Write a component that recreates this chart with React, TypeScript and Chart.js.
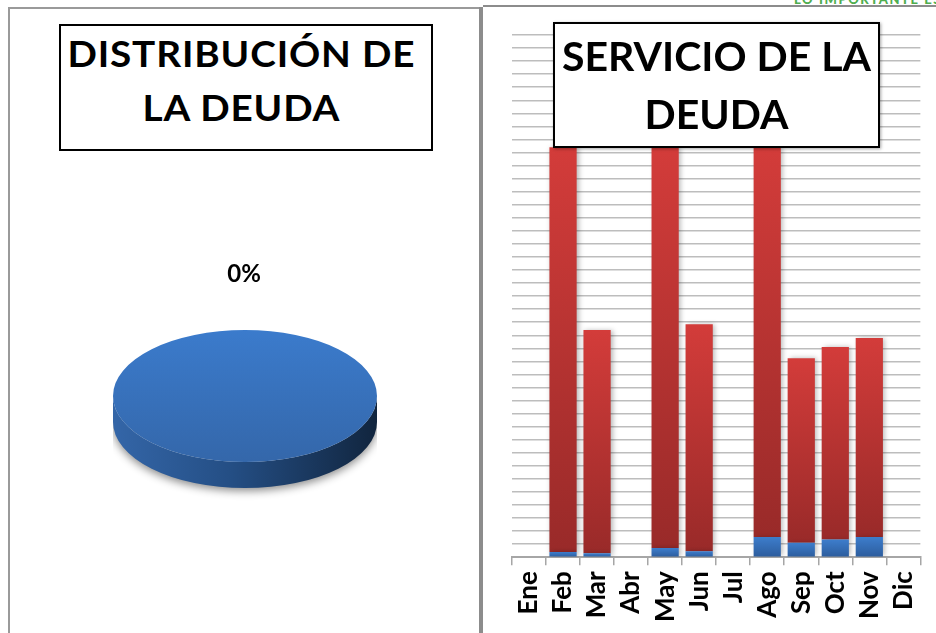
import React, { useEffect, useRef } from 'react';
import { Chart, registerables } from 'chart.js';
Chart.register(...registerables);

// ---- data ----
const months = ['Ene', 'Feb', 'Mar', 'Abr', 'May', 'Jun', 'Jul', 'Ago', 'Sep', 'Oct', 'Nov', 'Dic'];
const blueValues = [0, 0.4, 0.3, 0, 0.7, 0.45, 0, 1.55, 1.1, 1.35, 1.55, 0];
const redValues = [0, 31.0, 17.1, 0, 30.7, 17.4, 0, 29.85, 14.15, 14.75, 15.25, 0];
const seriesNames = ['Intereses', 'Amortización'];
const yMax = 40;
const yStep = 1;

const pieCategories = ['Deuda'];
const pieValues = [100];
const pieLabels = ['0%'];

const pieTitleLines = ['DISTRIBUCIÓN DE', 'LA DEUDA'];
const barTitleLines = ['SERVICIO DE LA', 'DEUDA'];
const cornerText = 'LO IMPORTANTE ES';

const FONT = 'Lato, "Open Sans", sans-serif';

function gradFor(top: string, bottom: string, lower?: number[]) {
  return (c: any) => {
    const chart = c.chart;
    const ys = chart.scales && chart.scales.y;
    if (!ys || c.dataIndex == null || !chart.chartArea) return top;
    const i = c.dataIndex;
    const base = lower ? lower[i] : 0;
    const v = c.dataset.data[i] || 0;
    const y0 = ys.getPixelForValue(base);
    const y1 = ys.getPixelForValue(base + v);
    if (!isFinite(y0) || !isFinite(y1) || Math.abs(y0 - y1) < 0.5) return top;
    const g = chart.ctx.createLinearGradient(0, y1, 0, y0);
    g.addColorStop(0, top);
    g.addColorStop(1, bottom);
    return g;
  };
}

const barShadow = {
  id: 'barShadow',
  beforeDatasetsDraw(chart: any) {
    const c = chart.ctx;
    c.save();
    c.shadowColor = 'rgba(0,0,0,0.28)';
    c.shadowBlur = 5;
    c.shadowOffsetX = 2;
    c.shadowOffsetY = 0;
  },
  afterDatasetsDraw(chart: any) {
    chart.ctx.restore();
  },
};

const TILT = 0.5;
const DEPTH = 26;

const pie3d = {
  id: 'pie3d',
  beforeDatasetsDraw(chart: any) {
    const ctx = chart.ctx;
    ctx.save();
    const arc = chart.getDatasetMeta(0).data[0];
    if (!arc) return;
    const p = arc.getProps(['x', 'y', 'outerRadius'], true);
    const cx = p.x, cy = p.y, rx = p.outerRadius, ry = p.outerRadius * TILT, d = DEPTH;
    ctx.save();
    ctx.shadowColor = 'rgba(0,0,0,0.45)';
    ctx.shadowBlur = 9;
    ctx.shadowOffsetY = 3;
    const g = ctx.createLinearGradient(cx - rx, 0, cx + rx, 0);
    g.addColorStop(0, '#3466a8');
    g.addColorStop(0.45, '#244e84');
    g.addColorStop(1, '#11253e');
    ctx.beginPath();
    ctx.moveTo(cx + rx, cy);
    ctx.lineTo(cx + rx, cy + d);
    ctx.ellipse(cx, cy + d, rx, ry, 0, 0, Math.PI);
    ctx.lineTo(cx - rx, cy);
    ctx.ellipse(cx, cy, rx, ry, 0, Math.PI, 0, true);
    ctx.closePath();
    ctx.fillStyle = g;
    ctx.fill();
    ctx.restore();
    ctx.translate(cx, cy);
    ctx.scale(1, TILT);
    ctx.translate(-cx, -cy);
  },
  afterDatasetsDraw(chart: any) {
    const ctx = chart.ctx;
    ctx.restore();
    const arc = chart.getDatasetMeta(0).data[0];
    if (!arc) return;
    const p = arc.getProps(['x', 'y', 'outerRadius'], true);
    ctx.save();
    ctx.font = 'bold 24px ' + FONT;
    ctx.fillStyle = '#000';
    ctx.textAlign = 'center';
    ctx.textBaseline = 'middle';
    ctx.fillText(pieLabels[0], p.x - 1, p.y - p.outerRadius * TILT - 56);
    ctx.restore();
  },
};

function PieChart() {
  const ref = useRef<HTMLCanvasElement>(null);
  useEffect(() => {
    if (!ref.current) return;
    const chart = new Chart(ref.current, {
      type: 'pie',
      data: {
        labels: pieCategories,
        datasets: [
          {
            data: pieValues,
            borderWidth: 0,
            backgroundColor: (c: any) => {
              const a = c.chart.chartArea;
              if (!a) return '#3775c5';
              const g = c.chart.ctx.createLinearGradient(0, a.top, 0, a.bottom);
              g.addColorStop(0, '#3b7bcc');
              g.addColorStop(1, '#3467aa');
              return g;
            },
          },
        ],
      },
      options: {
        animation: false,
        responsive: true,
        maintainAspectRatio: false,
        layout: { padding: 0 },
        plugins: { legend: { display: false }, tooltip: { enabled: false } },
      },
      plugins: [pie3d],
    } as any);
    return () => chart.destroy();
  }, []);
  return (
    <div style={{ position: 'absolute', left: 113, top: 264, width: 264, height: 264 }}>
      <canvas ref={ref} />
    </div>
  );
}

function BarChart() {
  const ref = useRef<HTMLCanvasElement>(null);
  useEffect(() => {
    if (!ref.current) return;
    const chart = new Chart(ref.current, {
      type: 'bar',
      data: {
        labels: months,
        datasets: [
          {
            label: seriesNames[0],
            data: blueValues,
            backgroundColor: gradFor('#3d7dcc', '#2c5c9c'),
            borderWidth: 0,
            barPercentage: 0.8,
            categoryPercentage: 1,
            stack: 's',
          },
          {
            label: seriesNames[1],
            data: redValues,
            backgroundColor: gradFor('#d33c3a', '#992a29', blueValues),
            borderWidth: 0,
            barPercentage: 0.8,
            categoryPercentage: 1,
            stack: 's',
          },
        ],
      },
      options: {
        animation: false,
        responsive: true,
        maintainAspectRatio: false,
        layout: { padding: { left: 29, right: 11, top: 27, bottom: 5 } },
        plugins: { legend: { display: false }, tooltip: { enabled: false } },
        scales: {
          x: {
            stacked: true,
            grid: { display: true, drawOnChartArea: false, offset: true, tickLength: 8, color: '#a6a6a6', lineWidth: 1.5 },
            border: { display: true, color: '#a6a6a6', width: 2 },
            ticks: {
              autoSkip: false,
              minRotation: 90,
              maxRotation: 90,
              padding: 6,
              color: '#000',
              font: { family: FONT, weight: 'bold', size: 26 },
            },
          },
          y: {
            stacked: true,
            min: 0,
            max: yMax,
            ticks: { display: false, stepSize: yStep },
            grid: { color: '#bdbdbd', lineWidth: 1.5, drawTicks: false },
            border: { display: false },
          },
        },
      },
      plugins: [barShadow],
    } as any);
    return () => chart.destroy();
  }, []);
  return (
    <div style={{ position: 'absolute', left: 483, top: 8, width: 458, height: 625 }}>
      <canvas ref={ref} />
    </div>
  );
}

function TitleBox(props: { left: number; top: number; width: number; height: number; lines: string[]; size: number; lh: number; tops: number[]; spacing?: number; stretch?: number; shift?: number; shadow?: boolean }) {
  return (
    <div
      style={{
        position: 'absolute',
        left: props.left,
        top: props.top,
        width: props.width,
        height: props.height,
        boxSizing: 'border-box',
        border: '2px solid #000',
        background: '#fff',
        boxShadow: props.shadow ? '1px 1px 3px rgba(0,0,0,0.35)' : 'none',
        zIndex: 5,
      }}
    >
      {props.lines.map((t, i) => (
        <div
          key={i}
          style={{
            position: 'absolute',
            left: props.shift || 0,
            right: -(props.shift || 0),
            top: props.tops[i],
            height: props.lh,
            lineHeight: props.lh + 'px',
            textAlign: 'center',
            fontFamily: FONT,
            fontWeight: 700,
            fontSize: props.size,
            letterSpacing: props.spacing || 0,
            paddingLeft: props.spacing || 0,
            transform: props.stretch ? `scaleX(${props.stretch})` : undefined,
            color: '#000',
            whiteSpace: 'nowrap',
          }}
        >
          {t}
        </div>
      ))}
    </div>
  );
}

export default function App() {
  return (
    <div style={{ position: 'fixed', left: 0, top: 0, width: 936, height: 633, background: '#fff', overflow: 'hidden', fontFamily: FONT }}>
      {/* left panel borders */}
      <div style={{ position: 'absolute', left: 8, top: 7, width: 472, height: 2, background: '#9a9a9a' }} />
      <div style={{ position: 'absolute', left: 8, top: 7, width: 2, height: 626, background: '#9a9a9a' }} />
      {/* divider / right panel border */}
      <div style={{ position: 'absolute', left: 479, top: 7, width: 4, height: 626, background: '#8c8c8c' }} />
      <div style={{ position: 'absolute', left: 483, top: 5, width: 453, height: 2, background: '#8c8c8c' }} />
      <div style={{ position: 'absolute', left: 794, top: -9, fontFamily: FONT, fontWeight: 900, fontSize: 13, letterSpacing: 1.6, color: '#4fae4f', whiteSpace: 'nowrap' }}>{cornerText}</div>

      <PieChart />
      <BarChart />

      <TitleBox left={59} top={24} width={374} height={127} lines={pieTitleLines} size={36} lh={44} tops={[5, 59]} spacing={0.8} stretch={1.075} shift={-5} />
      <TitleBox left={553} top={22} width={327} height={126} lines={barTitleLines} size={41} lh={50} tops={[6.5, 65]} shadow />
    </div>
  );
}
